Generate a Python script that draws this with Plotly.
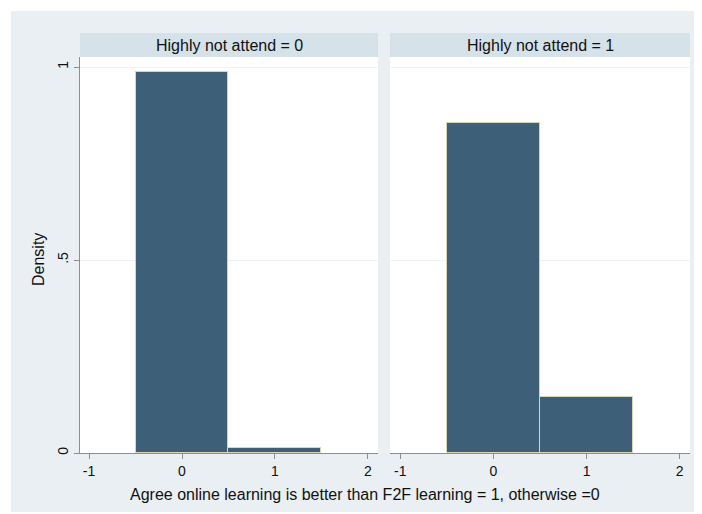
import plotly.graph_objects as go

# ---- data ----
bin_centers = [0, 1]
density_group0 = [0.987, 0.013]   # Highly not attend = 0
density_group1 = [0.855, 0.145]   # Highly not attend = 1
panel_titles = ["Highly not attend = 0", "Highly not attend = 1"]
x_ticks = [-1, 0, 1, 2]
y_ticks = [0, 0.5, 1]
y_tick_labels = ["0", ".5", "1"]
x_title = "Agree online learning is better than F2F learning = 1, otherwise =0"
y_title = "Density"

OFF = 8  # page body margin
W, H = 702 - OFF, 514 - OFF
# page-pixel positions of the plot area
P_LEFT, P_RIGHT, P_TOP, P_BOTTOM = 80, 690, 57, 453
ML = P_LEFT - OFF
MR = W - (P_RIGHT - OFF)
MT = P_TOP - OFF
MB = H - (P_BOTTOM - OFF)
PW = P_RIGHT - P_LEFT
PH = P_BOTTOM - P_TOP

def px_x(p):
    return (p - P_LEFT) / PW

def px_y(p):
    return (P_BOTTOM - p) / PH

BG = "#e9eff3"
STRIP = "#d6e2ea"
BAR = "#3e5f78"
BAR_LINE = "#d9d6b8"
AXIS = "#8a8f94"
GRID = "#eef2f5"
FONT = "Liberation Sans, Arial, sans-serif"

dom1 = [0, px_x(378)]
dom2 = [px_x(390), 1]

fig = go.Figure()
for vals, xa, ya in [(density_group0, "x", "y"), (density_group1, "x2", "y2")]:
    fig.add_trace(go.Bar(
        x=bin_centers, y=vals, width=1, xaxis=xa, yaxis=ya,
        marker=dict(color=BAR, line=dict(color=BAR_LINE, width=1)),
        showlegend=False, hoverinfo="x+y",
    ))

xaxis_common = dict(
    tickmode="array", tickvals=x_ticks, ticktext=[str(v) for v in x_ticks],
    ticks="outside", ticklen=5, tickcolor=AXIS, showline=True, linecolor=AXIS,
    linewidth=1, showgrid=False, zeroline=False,
    tickfont=dict(family=FONT, size=14, color="#111"),
)
yaxis_common = dict(
    range=[0, 1.026], tickmode="array", tickvals=y_ticks,
    showgrid=True, gridcolor=GRID, gridwidth=1, zeroline=False,
)

fig.update_layout(
    width=W, height=H,
    margin=dict(l=ML, r=MR, t=MT, b=MB),
    paper_bgcolor="white", plot_bgcolor="white",
    bargap=0, font=dict(family=FONT, color="#111"),
    xaxis=dict(domain=dom1, range=[-1.097, 2.108], anchor="y", **xaxis_common),
    xaxis2=dict(domain=dom2, range=[-1.11, 2.11], anchor="y2", **xaxis_common),
    yaxis=dict(domain=[0, 1], anchor="x", ticktext=y_tick_labels, ticks="outside",
               ticklen=5, tickcolor=AXIS, showline=True, linecolor=AXIS, linewidth=1,
               tickangle=-90, tickfont=dict(family=FONT, size=14, color="#111"),
               **yaxis_common),
    yaxis2=dict(domain=[0, 1], anchor="x2", showticklabels=False, ticks="",
                showline=False, **yaxis_common),
)

shapes = [
    dict(type="rect", xref="paper", yref="paper", x0=px_x(11), x1=px_x(700),
         y0=px_y(512), y1=px_y(11), fillcolor=BG, line=dict(width=0), layer="below"),
]
for dom in (dom1, dom2):
    shapes.append(dict(type="rect", xref="paper", yref="paper", x0=dom[0], x1=dom[1],
                       y0=0, y1=1, fillcolor="white", line=dict(width=0), layer="below"))
    shapes.append(dict(type="rect", xref="paper", yref="paper", x0=dom[0], x1=dom[1],
                       y0=1, y1=px_y(33), fillcolor=STRIP, line=dict(width=0), layer="below"))
fig.update_layout(shapes=shapes)

annotations = []
for dom, t in zip((dom1, dom2), panel_titles):
    annotations.append(dict(text=t, xref="paper", yref="paper", x=(dom[0] + dom[1]) / 2,
                            y=(1 + px_y(33)) / 2, xanchor="center", yanchor="middle",
                            showarrow=False, font=dict(family=FONT, size=16, color="#111")))
annotations.append(dict(text=x_title, xref="paper", yref="paper", x=px_x(365), y=px_y(495),
                        xanchor="center", yanchor="middle", showarrow=False,
                        font=dict(family=FONT, size=16, color="#111")))
annotations.append(dict(text=y_title, xref="paper", yref="paper", x=px_x(38), y=px_y(260),
                        xanchor="center", yanchor="middle", textangle=-90, showarrow=False,
                        font=dict(family=FONT, size=16, color="#111")))
fig.update_layout(annotations=annotations)

fig.write_html("out.html")
